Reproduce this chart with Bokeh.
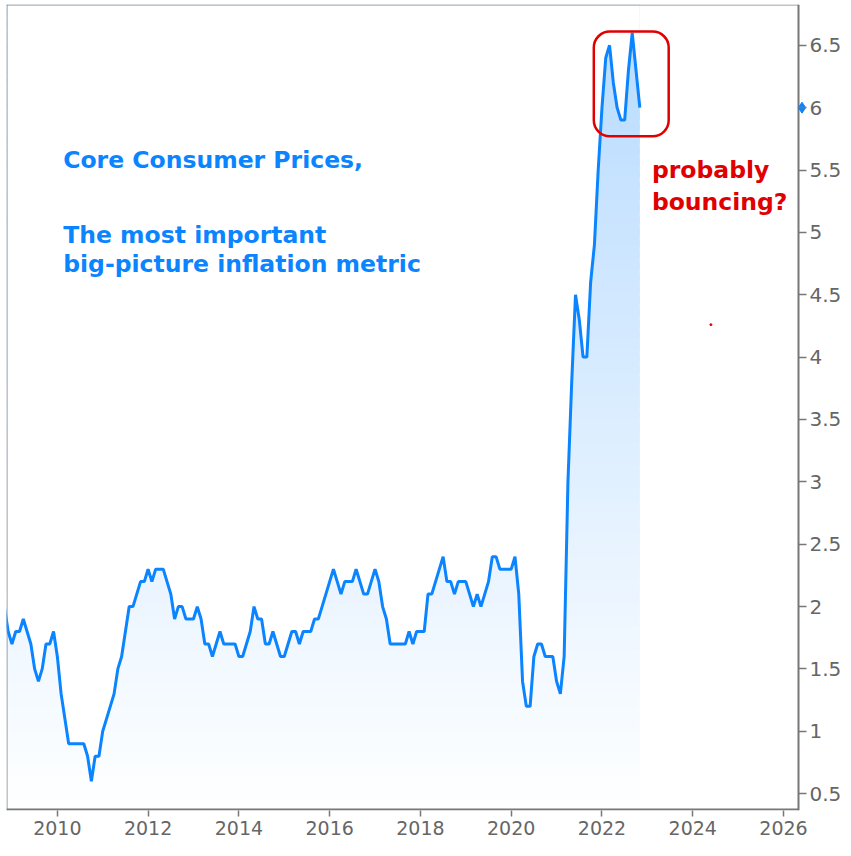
import numpy as np
import pandas as pd
from bokeh.plotting import figure
from bokeh.models import Range1d, FixedTicker, Label, BoxAnnotation, ColumnDataSource
from bokeh.embed import file_html
from bokeh.resources import INLINE

# ---- data: US core consumer prices, % y/y, monthly (Nov 2008 .. Nov 2022)
start_month = "2008-11-01"
cpi_2008 = [2.0, 1.8]
cpi_2009 = [1.7, 1.8, 1.8, 1.9, 1.8, 1.7, 1.5, 1.4, 1.5, 1.7, 1.7, 1.8]
cpi_2010 = [1.6, 1.3, 1.1, 0.9, 0.9, 0.9, 0.9, 0.9, 0.8, 0.6, 0.8, 0.8]
cpi_2011 = [1.0, 1.1, 1.2, 1.3, 1.5, 1.6, 1.8, 2.0, 2.0, 2.1, 2.2, 2.2]
cpi_2012 = [2.3, 2.2, 2.3, 2.3, 2.3, 2.2, 2.1, 1.9, 2.0, 2.0, 1.9, 1.9]
cpi_2013 = [1.9, 2.0, 1.9, 1.7, 1.7, 1.6, 1.7, 1.8, 1.7, 1.7, 1.7, 1.7]
cpi_2014 = [1.6, 1.6, 1.7, 1.8, 2.0, 1.9, 1.9, 1.7, 1.7, 1.8, 1.7, 1.6]
cpi_2015 = [1.6, 1.7, 1.8, 1.8, 1.7, 1.8, 1.8, 1.8, 1.9, 1.9, 2.0, 2.1]
cpi_2016 = [2.2, 2.3, 2.2, 2.1, 2.2, 2.2, 2.2, 2.3, 2.2, 2.1, 2.1, 2.2]
cpi_2017 = [2.3, 2.2, 2.0, 1.9, 1.7, 1.7, 1.7, 1.7, 1.7, 1.8, 1.7, 1.8]
cpi_2018 = [1.8, 1.8, 2.1, 2.1, 2.2, 2.3, 2.4, 2.2, 2.2, 2.1, 2.2, 2.2]
cpi_2019 = [2.2, 2.1, 2.0, 2.1, 2.0, 2.1, 2.2, 2.4, 2.4, 2.3, 2.3, 2.3]
cpi_2020 = [2.3, 2.4, 2.1, 1.4, 1.2, 1.2, 1.6, 1.7, 1.7, 1.6, 1.6, 1.6]
cpi_2021 = [1.4, 1.3, 1.6, 3.0, 3.8, 4.5, 4.3, 4.0, 4.0, 4.6, 4.9, 5.5]
cpi_2022 = [6.0, 6.4, 6.5, 6.2, 6.0, 5.9, 5.9, 6.3, 6.6, 6.3, 6.0]

x_ticks = [2010, 2012, 2014, 2016, 2018, 2020, 2022, 2024, 2026]
x_tick_labels = ["2010", "2012", "2014", "2016", "2018", "2020", "2022", "2024", "2026"]
y_ticks = [0.5, 1, 1.5, 2, 2.5, 3, 3.5, 4, 4.5, 5, 5.5, 6, 6.5]
y_tick_labels = ["0.5", "1", "1.5", "2", "2.5", "3", "3.5", "4", "4.5", "5", "5.5", "6", "6.5"]

title_lines = ["Core Consumer Prices,", "The most important", "big-picture inflation metric"]
note_lines = ["probably", "bouncing?"]

# ---- assemble
values = (cpi_2008 + cpi_2009 + cpi_2010 + cpi_2011 + cpi_2012 + cpi_2013 + cpi_2014 +
          cpi_2015 + cpi_2016 + cpi_2017 + cpi_2018 + cpi_2019 + cpi_2020 + cpi_2021 + cpi_2022)
dates = pd.date_range(start_month, periods=len(values), freq="MS")
xs = np.array([d.year + (d.month - 1) / 12.0 for d in dates])
ys = np.array(values)

FW, FH = 800, 806
TICK = 8                      # y ticks drawn inward from the frame edge
X0, X_AX = 2008.88, 2026.33   # left edge, position of the visible y-axis line
PPY = (FW - TICK) / (X_AX - X0)
X2 = X_AX + TICK / PPY        # frame right edge (end of the y ticks)
Y0, Y1 = 0.365, 6.827
PPV = FH / (Y1 - Y0)

FONT = "DejaVu Sans"
BLUE = "#0b84ff"
RED = "#e00000"
GRAY = "#666666"
AX = "#777777"

p = figure(frame_width=FW, frame_height=FH, x_range=Range1d(X0, X2), y_range=Range1d(Y0, Y1),
           y_axis_location="right", output_backend="svg", toolbar_location=None,
           min_border_left=6, min_border_top=4, min_border_right=0, min_border_bottom=0,
           background_fill_color="white", border_fill_color="white")
p.grid.visible = False
p.outline_line_color = None

# gradient fill under the line: horizontal bands masked above the line
nb = 70
edges = np.linspace(Y0, Y1, nb + 1)
bot = edges[:-1]
top = edges[1:] + (Y1 - Y0) / nb * 0.6
mid = (edges[:-1] + edges[1:]) / 2
t = np.clip((mid - Y0) / (6.6 - Y0), 0, 1)
cols = ["#%02x%02x%02x" % (int(round(255 - 70 * tt)), int(round(255 - 35 * tt)), 255) for tt in t]
band_src = ColumnDataSource(dict(left=[xs[0]] * nb, right=[xs[-1]] * nb, bottom=bot, top=top, color=cols))
p.quad(left="left", right="right", bottom="bottom", top="top", fill_color="color",
       line_color=None, source=band_src)
p.varea(x=xs, y1=ys, y2=Y1 + 1, fill_color="white")

p.line(xs, ys, line_color=BLUE, line_width=3)

# stray red dot seen on the reference
p.scatter([2024.4], [4.26], size=2, color=RED, marker="circle")

# plot box: left/top thin border, right and bottom axis lines
p.segment(x0=[X0 + 0.5 / PPY, X0], y0=[Y0, Y1 - 0.5 / PPV], x1=[X0 + 0.5 / PPY, X_AX],
          y1=[Y1, Y1 - 0.5 / PPV], line_color="#888888", line_width=1)
p.segment(x0=[X_AX, X0], y0=[Y0, Y0 + 1 / PPV], x1=[X_AX, X_AX], y1=[Y1, Y0 + 1 / PPV],
          line_color=AX, line_width=2)

# last value marker on the axis
p.scatter([X_AX + 3.5 / PPY], [6.0], marker="diamond", size=11, color=BLUE)

# red rounded box around the peak
p.add_layout(BoxAnnotation(left=2021.82, right=2023.47, top=6.61, bottom=5.77,
                           fill_alpha=0, line_color=RED, line_alpha=1, line_width=2.5,
                           border_radius=16))

# axes
xa = p.xaxis[0]
xa.ticker = FixedTicker(ticks=x_ticks)
xa.major_label_overrides = {k: v for k, v in zip(x_ticks, x_tick_labels)}
ya = p.yaxis[0]
ya.ticker = FixedTicker(ticks=y_ticks)
ya.major_label_overrides = {k: v for k, v in zip(y_ticks, y_tick_labels)}
for ax in (xa, ya):
    ax.axis_line_color = None
    ax.major_tick_line_color = AX
    ax.major_tick_line_width = 1.5
    ax.minor_tick_line_color = None
    ax.major_label_text_color = GRAY
    ax.major_label_text_font = FONT
xa.major_tick_in = 0
xa.major_tick_out = 6
xa.major_label_standoff = 4
xa.major_label_text_font_size = "19px"
ya.major_tick_in = TICK
ya.major_tick_out = 0
ya.major_label_standoff = 3
ya.major_label_text_font_size = "20px"

# texts
for txt, yy in zip(title_lines, [5.58, 4.98, 4.75]):
    p.add_layout(Label(x=2010.13, y=yy, text=txt, text_color=BLUE, text_font=FONT,
                       text_font_style="bold", text_font_size="23.5px", text_baseline="alphabetic"))
for txt, yy in zip(note_lines, [5.50, 5.24]):
    p.add_layout(Label(x=2023.10, y=yy, text=txt, text_color=RED, text_font=FONT,
                       text_font_style="bold", text_font_size="23.5px", text_baseline="alphabetic"))

open("out.html", "w").write(file_html(p, INLINE))
